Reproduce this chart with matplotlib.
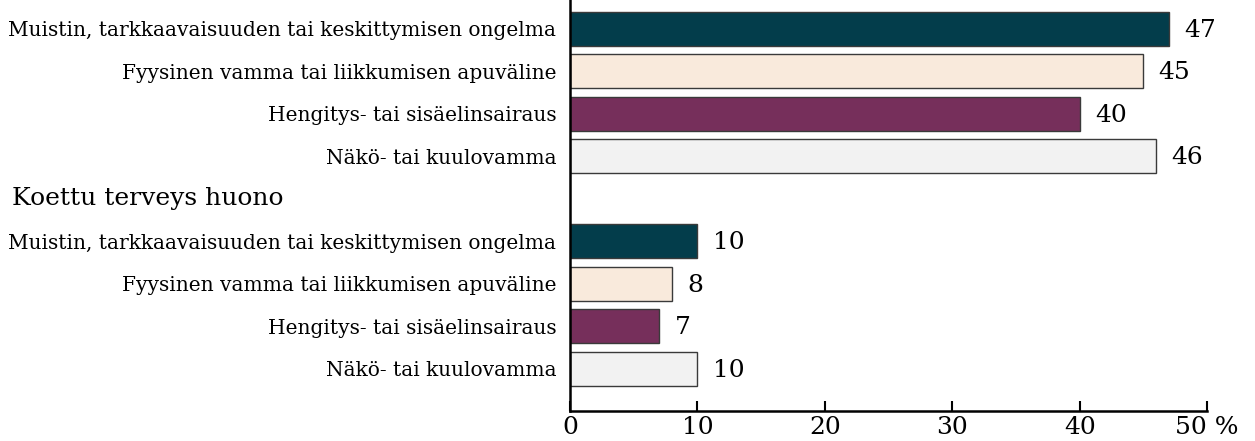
import numpy as np
import matplotlib.pyplot as plt
import matplotlib.transforms as mtransforms

# Data
categories = [
    'Muistin, tarkkaavaisuuden tai keskittymisen ongelma',
    'Fyysinen vamma tai liikkumisen apuväline',
    'Hengitys- tai sisäelinsairaus',
    'Näkö- tai kuulovamma',
]
values_top = [47, 45, 40, 46]
group2_title = 'Koettu terveys huono'
values_bottom = [10, 8, 7, 10]
colors = ['#033d4b', '#f9eadc', '#762f5b', '#f2f2f2']
xticks = [0, 10, 20, 30, 40, 50]
xtick_labels = ['0', '10', '20', '30', '40', '50 %']

plt.rcParams['font.family'] = ['DejaVu Serif']

fig = plt.figure(figsize=(12.55, 4.41), dpi=100)
ax = fig.add_axes([0.4542, 0.068, 0.5076, 0.932])

# slots: 0-3 top group, 4 header, 5-8 bottom group
pos_top = np.arange(4)
pos_bottom = np.arange(5, 9)
for pos, vals in [(pos_top, values_top), (pos_bottom, values_bottom)]:
    ax.barh(pos, vals, height=0.8, color=colors, edgecolor='#3a3a3a', linewidth=1.0)
    for p, v in zip(pos, vals):
        ax.text(v + 1.2, p + 0.03, str(v), va='center', ha='left', fontsize=18)

ax.set_yticks(list(pos_top) + list(pos_bottom))
ax.set_yticklabels(categories + categories, fontsize=14.5)
ax.tick_params(axis='y', length=0, pad=10)

ax.set_xlim(0, 50)
ax.set_ylim(8.99, -0.68)
ax.set_xticks(xticks)
ax.set_xticklabels(xtick_labels, fontsize=18)
ax.tick_params(axis='x', direction='in', length=7, width=1.5, pad=3.5)

trans = mtransforms.blended_transform_factory(fig.transFigure, ax.transData)
ax.text(0.0096, 4, group2_title, transform=trans, ha='left', va='center', fontsize=18)

for s in ['top', 'right']:
    ax.spines[s].set_visible(False)
ax.spines['left'].set_linewidth(1.8)
ax.spines['bottom'].set_linewidth(1.8)

fig.savefig('out.png', dpi=100)
